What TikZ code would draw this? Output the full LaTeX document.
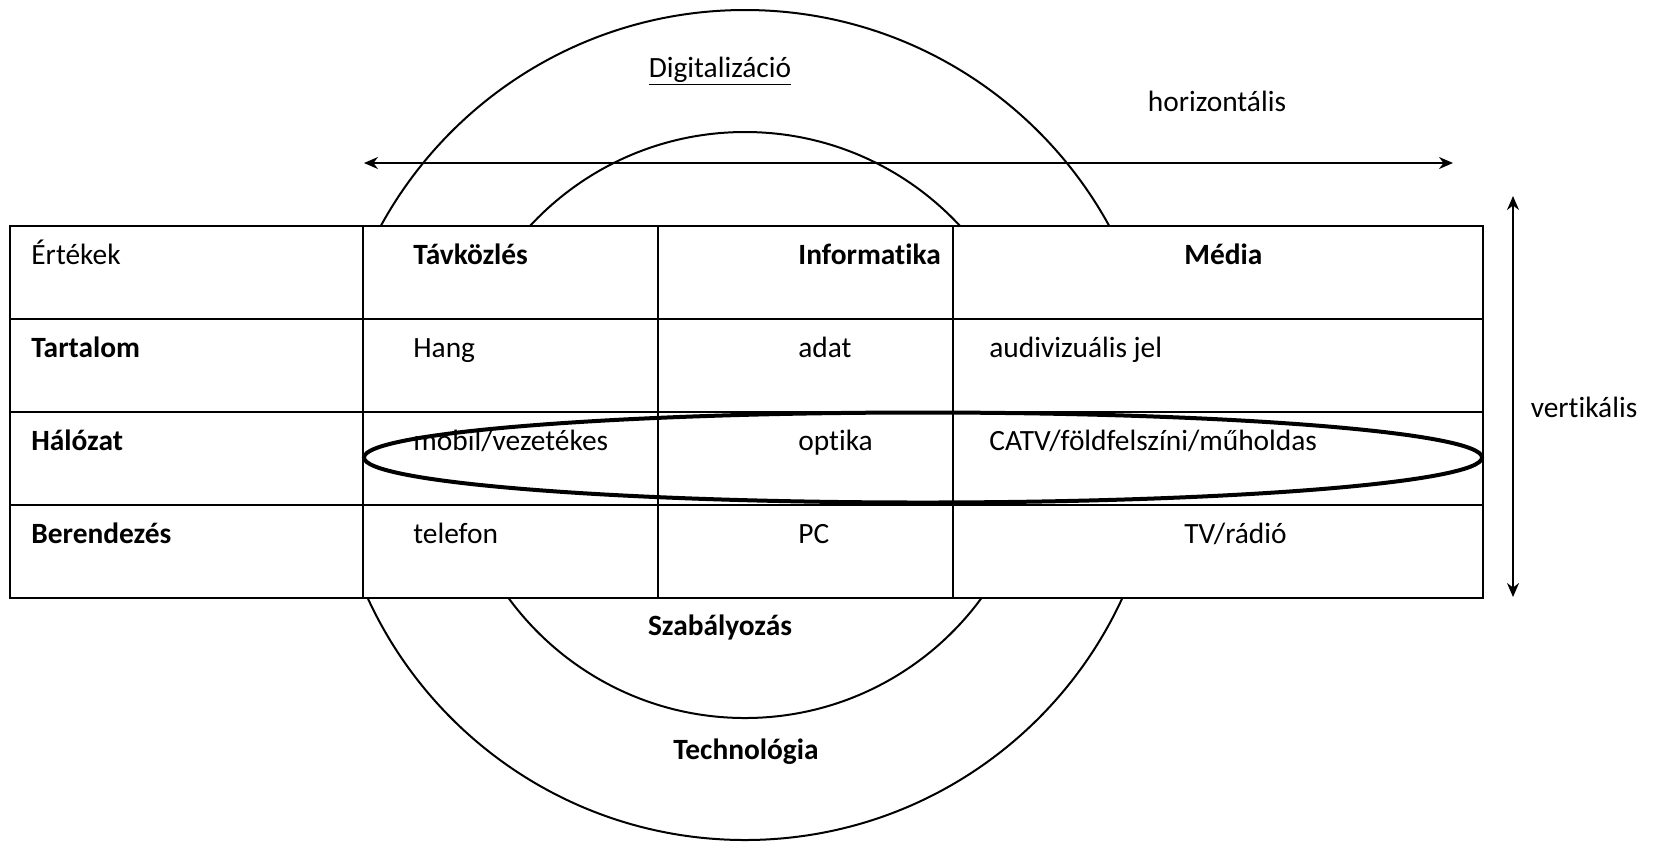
\documentclass[tikz,border=0pt]{standalone}
\usepackage{fontspec}
\setmainfont{Carlito}[RawFeature={-liga;-clig;-dlig}]
\usetikzlibrary{arrows.meta}
\begin{document}
\begin{tikzpicture}[x=0.5pt,y=-0.5pt,
  every node/.style={font=\fontsize{14.7}{17}\selectfont, inner sep=0pt},
  lbl/.style={anchor=base west},
  hd/.style={anchor=base west, font=\fontsize{14.7}{17}\selectfont\bfseries},
  ctr/.style={anchor=base},
  ctrb/.style={anchor=base, font=\fontsize{14.7}{17}\selectfont\bfseries},
  ring/.style={draw, line width=1pt},
  gridline/.style={draw, line width=1.1pt},
  dblarrow/.style={line width=1pt, {Stealth[length=7pt,width=6pt]}-{Stealth[length=7pt,width=6pt]}}
]
\useasboundingbox (0,0) rectangle (1653,843);
% rings
\coordinate (c) at (745,425);
\draw[ring] (c) circle [radius=207.5pt];
\draw[ring] (c) circle [radius=146.5pt];
% table
\fill[white] (10,226) rectangle (1483,598);
\draw[gridline] (10,226) rectangle (1483,598);
\foreach \y in {319,412,505} \draw[gridline] (10,\y) -- (1483,\y);
\foreach \x in {362.6,657.8,953} \draw[gridline] (\x,226) -- (\x,598);
% network ellipse
\draw[line width=2pt] (923,457.5) ellipse [x radius=279.5pt, y radius=22.5pt];
% arrows
\coordinate (hl) at (364,163);
\coordinate (hr) at (1453,163);
\draw[dblarrow] (hl) -- (hr);
\coordinate (vt) at (1513,196);
\coordinate (vb) at (1513,597);
\draw[dblarrow] (vt) -- (vb);
% free labels
\node[ctr] (digit) at (720,77) {\underline{Digitalizáció}};
\node[ctr] (horiz) at (1217,111) {horizontális};
\node[ctr] (vert) at (1584,417) {vertikális};
\node[ctrb] (szab) at (720,635) {Szabályozás};
\node[ctrb] (tech) at (746,759) {Technológia};
% row 1
\node[lbl] (r1c1) at (31,264) {Értékek};
\node[hd] (r1c2) at (413,264) {Távközlés};
\node[hd] (r1c3) at (798,264) {Informatika};
\node[hd] (r1c4) at (1184,264) {Média};
% row 2
\node[hd] (r2c1) at (31,357) {Tartalom};
\node[lbl] (r2c2) at (413,357) {Hang};
\node[lbl] (r2c3) at (798,357) {adat};
\node[lbl] (r2c4) at (989,357) {audivizuális jel};
% row 3
\node[hd] (r3c1) at (31,450) {Hálózat};
\node[lbl] (r3c2) at (413,450) {mobil/vezetékes};
\node[lbl] (r3c3) at (798,450) {optika};
\node[lbl] (r3c4) at (989,450) {CATV/földfelszíni/műholdas};
% row 4
\node[hd] (r4c1) at (31,543) {Berendezés};
\node[lbl] (r4c2) at (413,543) {telefon};
\node[lbl] (r4c3) at (798,543) {PC};
\node[lbl] (r4c4) at (1184,543) {TV/rádió};
\end{tikzpicture}
\end{document}
